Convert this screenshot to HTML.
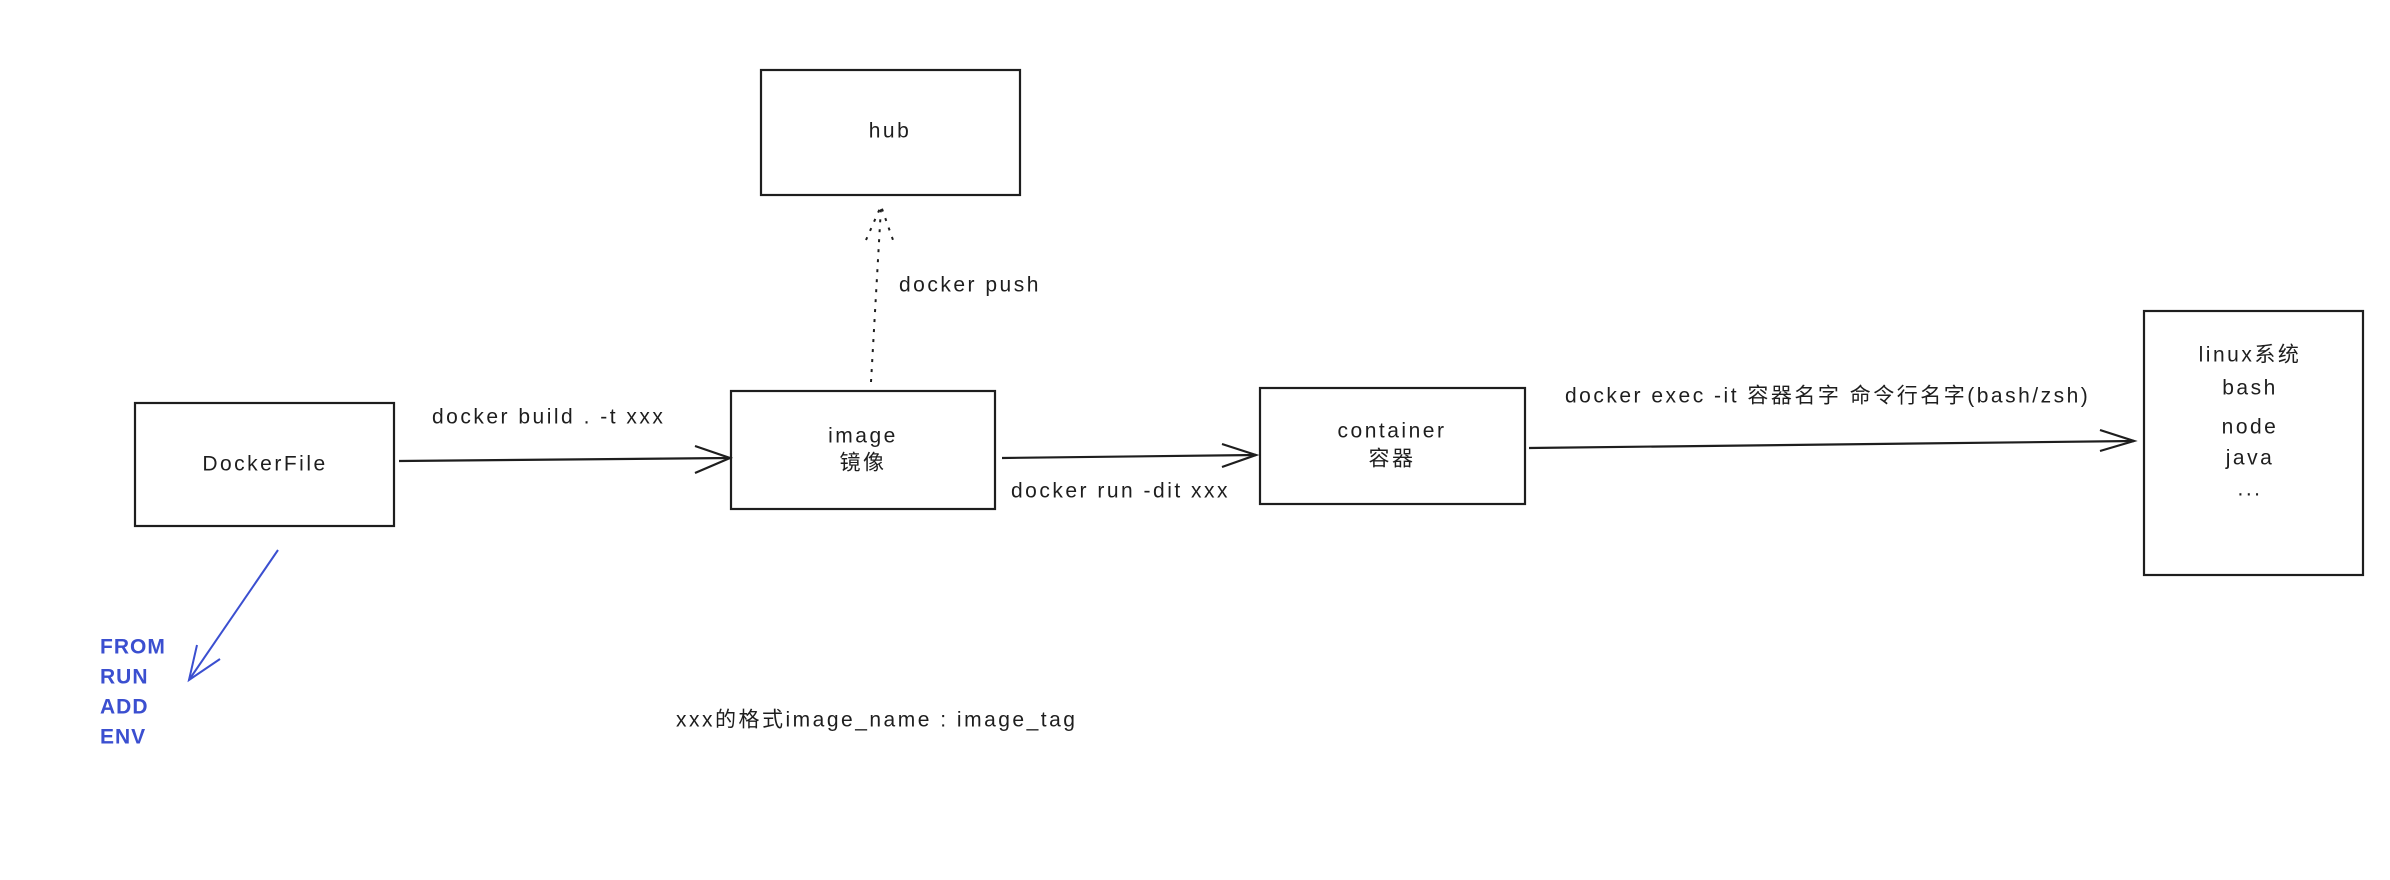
<!DOCTYPE html>
<html><head><meta charset="utf-8"><style>
html,body{margin:0;padding:0;background:#fff;overflow:hidden;}
svg{display:block;}
text{font-family:"Liberation Sans","Noto Sans CJK SC",sans-serif;font-size:21px;fill:#1e1e1e;letter-spacing:2.5px;dominant-baseline:middle;}
.b{fill:#3b4fd0;font-weight:bold;letter-spacing:1px;}
</style></head><body>
<svg width="2390" height="880" viewBox="0 0 2390 880" xmlns="http://www.w3.org/2000/svg">
<g fill="none" stroke="#1e1e1e" stroke-width="2.2">
<rect x="761" y="70" width="259" height="125"/>
<rect x="135" y="403" width="259" height="123"/>
<rect x="731" y="391" width="264" height="118"/>
<rect x="1260" y="388" width="265" height="116"/>
<rect x="2144" y="311" width="219" height="264"/>
<!-- build arrow -->
<line x1="399" y1="461" x2="730" y2="458"/>
<polyline points="695,446 730,458 695,473"/>
<!-- run arrow -->
<line x1="1002" y1="458" x2="1256" y2="455"/>
<polyline points="1222,444 1256,455 1222,467"/>
<!-- exec arrow -->
<line x1="1529" y1="448" x2="2134" y2="441"/>
<polyline points="2100,430 2134,441 2100,451"/>
<!-- push dotted -->
<line x1="871" y1="382" x2="881" y2="207" stroke-dasharray="3,7" stroke-width="2"/>
<polyline points="866,240 881,206 893,240" stroke-dasharray="3,7" stroke-width="2"/>
</g>
<g fill="none" stroke="#3b4fd0" stroke-width="2">
<line x1="278" y1="550" x2="189" y2="680"/>
<polyline points="197,645 189,680 220,659"/>
</g>
<text x="890" y="132" text-anchor="middle">hub</text>
<text x="265" y="465" text-anchor="middle">DockerFile</text>
<text x="863" y="437" text-anchor="middle">image</text>
<text x="863" y="464" text-anchor="middle">镜像</text>
<text x="1392" y="432" text-anchor="middle">container</text>
<text x="1392" y="460" text-anchor="middle">容器</text>
<text x="432" y="418">docker build . -t xxx</text>
<text x="899" y="286">docker push</text>
<text x="1011" y="492">docker run -dit xxx</text>
<text x="1565" y="397">docker exec -it 容器名字 命令行名字(bash/zsh)</text>
<text x="2250" y="356" text-anchor="middle">linux系统</text>
<text x="2250" y="389" text-anchor="middle">bash</text>
<text x="2250" y="428" text-anchor="middle">node</text>
<text x="2250" y="459" text-anchor="middle">java</text>
<text x="2250" y="490" text-anchor="middle">...</text>
<text x="676" y="721">xxx的格式image_name : image_tag</text>
<text class="b" x="100" y="648">FROM</text>
<text class="b" x="100" y="678">RUN</text>
<text class="b" x="100" y="708">ADD</text>
<text class="b" x="100" y="738">ENV</text>
</svg>
</body></html>
